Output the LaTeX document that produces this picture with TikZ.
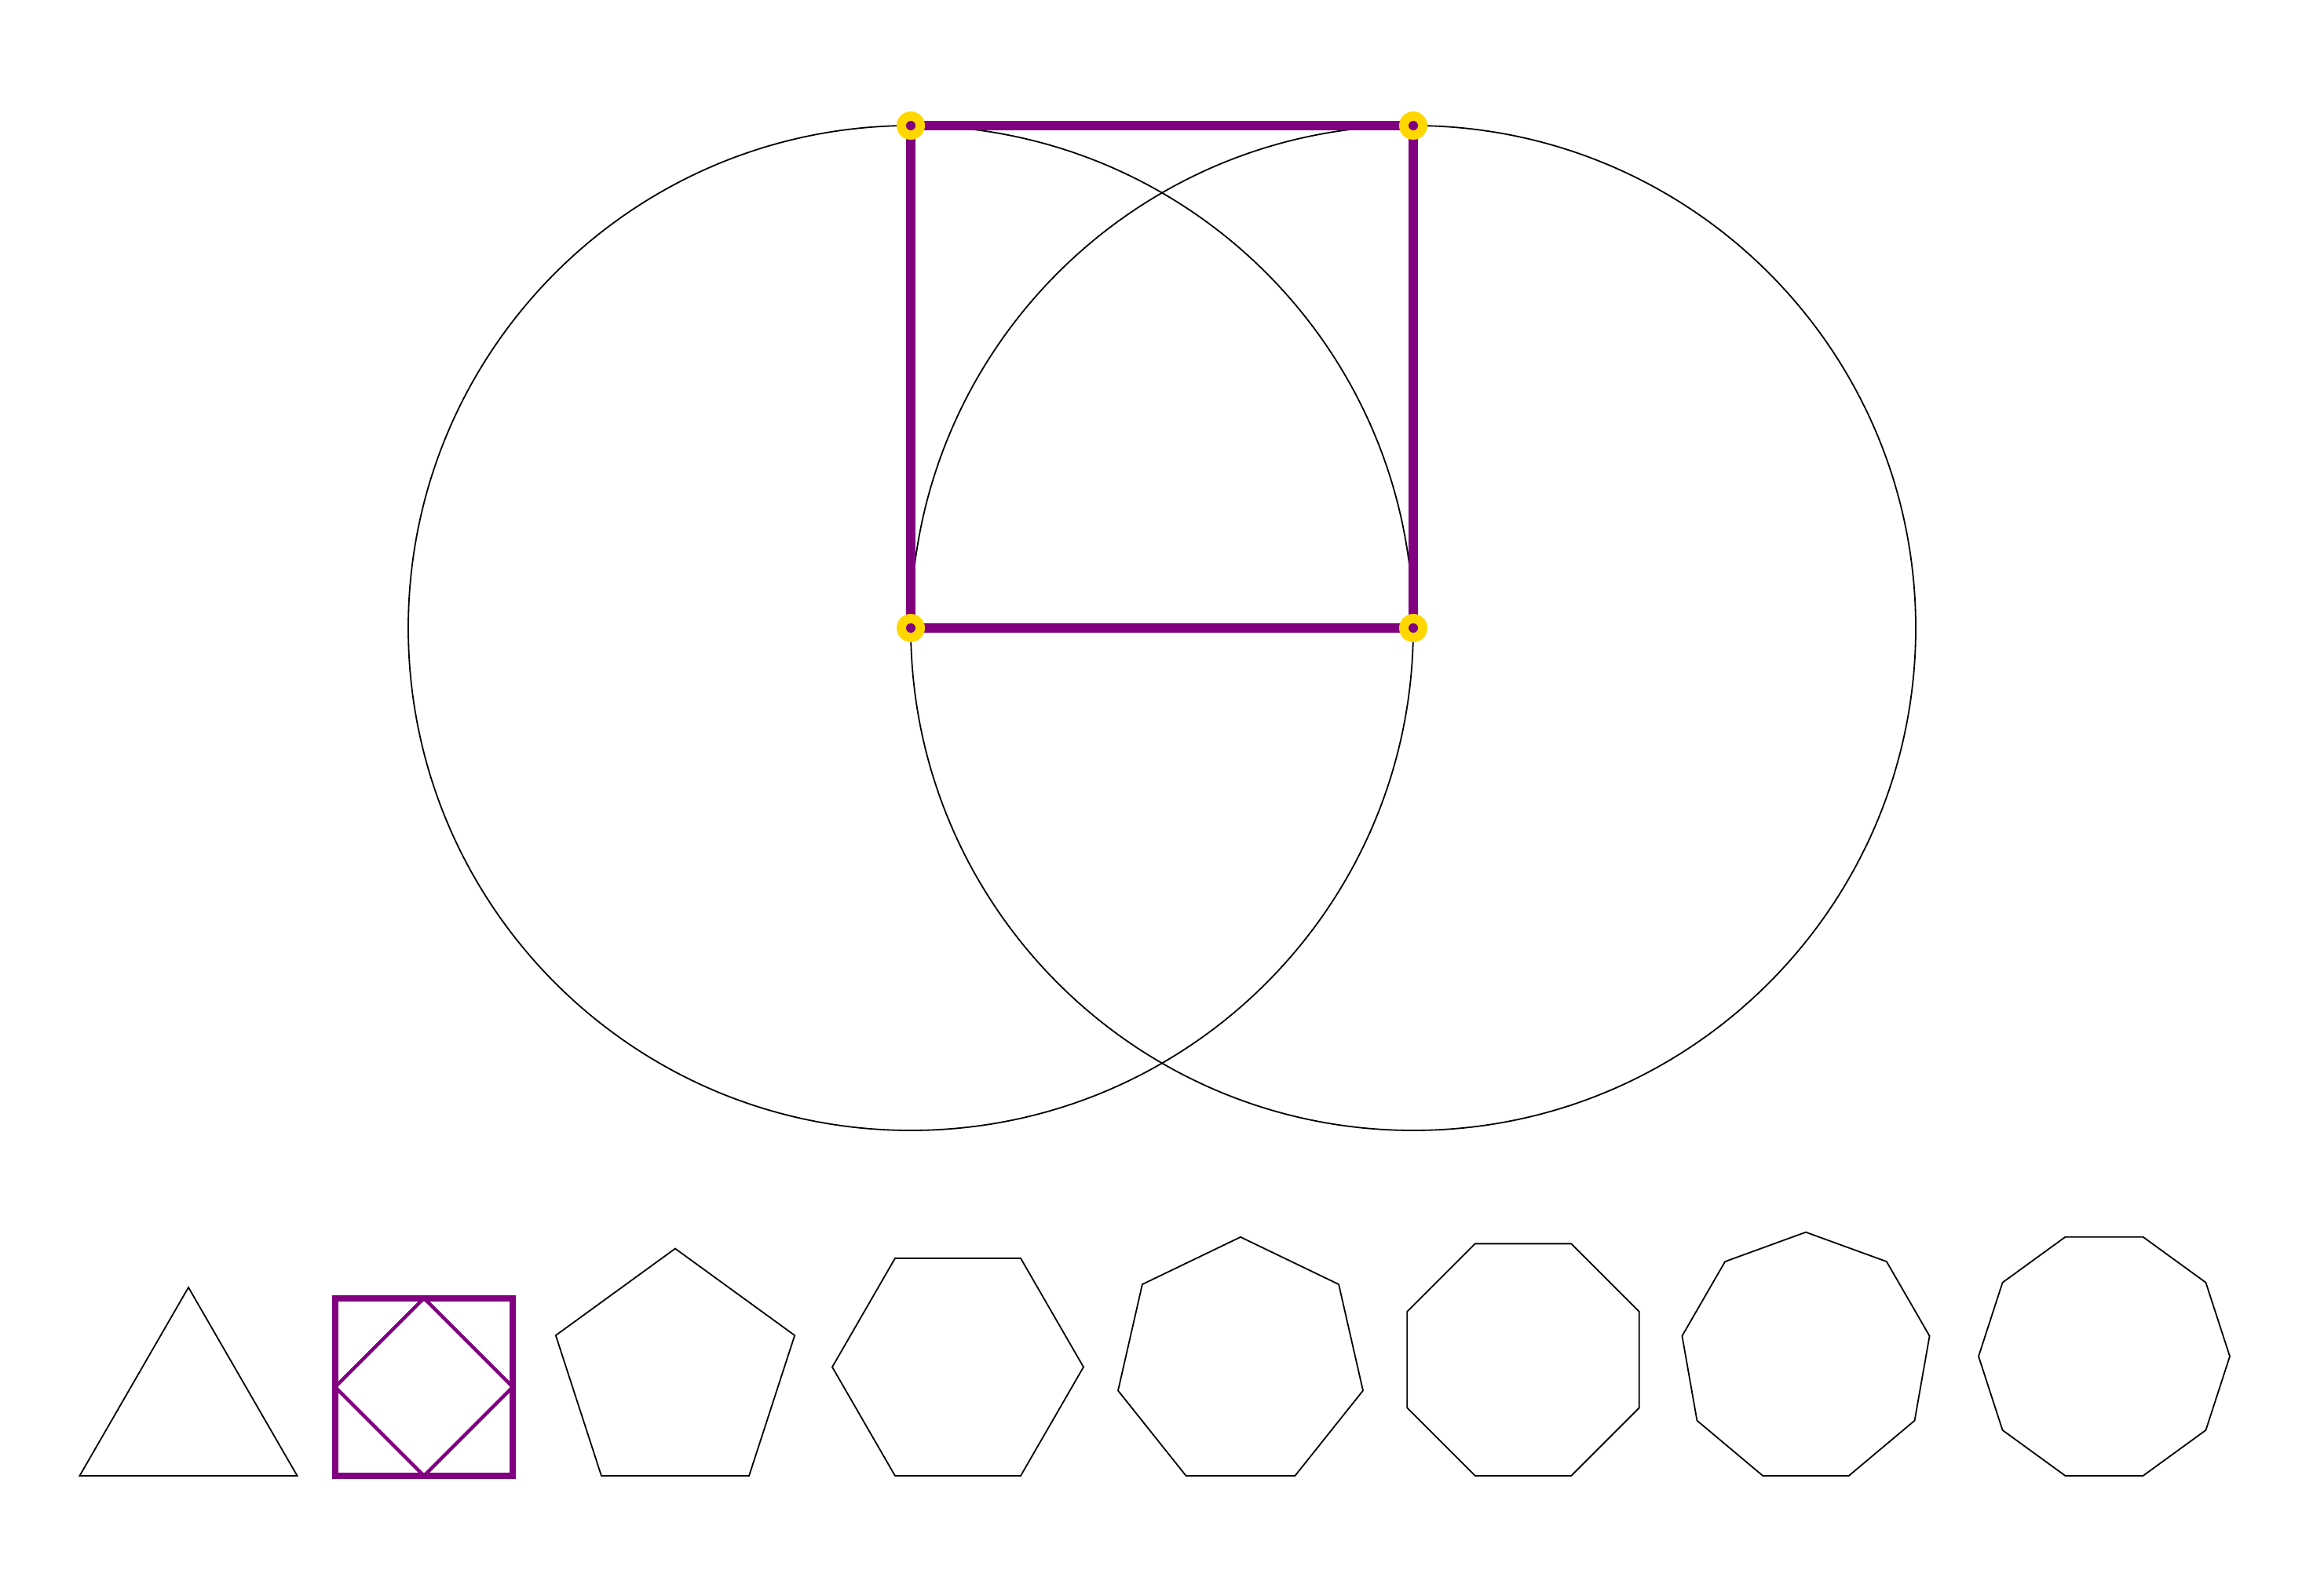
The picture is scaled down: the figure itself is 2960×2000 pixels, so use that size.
\documentclass[tikz,border=0pt]{standalone}
\usepackage{tikz}
\definecolor{mypurple}{RGB}{128,0,128}
\definecolor{mygold}{RGB}{255,215,0}
\tikzset{
  thinline/.style={draw=black, line width=0.018cm, line join=miter},
  bigsq/.style={draw=mypurple, line width=0.12cm},
  smallsq/.style={draw=mypurple, line width=0.08cm, line join=miter},
  diam/.style={draw=mypurple, line width=0.045cm},
  outerdot/.style={fill=mygold},
  innerdot/.style={fill=mypurple}
}
\begin{document}
\begin{tikzpicture}[x=0.01cm, y=-0.01cm]
\useasboundingbox (0,0) rectangle (2960,2000);
% main construction
\coordinate (A) at (1160,160);
\coordinate (B) at (1800,160);
\coordinate (C) at (1160,800);
\coordinate (D) at (1800,800);
\draw[thinline] (C) circle (640);
\draw[thinline] (D) circle (640);
\draw[bigsq] (A) -- (B) -- (D) -- (C) -- cycle;
\foreach \p in {A,B,C,D} {
  \fill[outerdot] (\p) circle (18);
  \fill[innerdot] (\p) circle (6);
}
% regular polygons, circumradius 160, bottoms at 1880
\foreach \n/\cx in {3/240,5/860,6/1220,7/1580,8/1940,9/2300,10/2680} {
  \pgfmathsetmacro\cy{1880-160*cos(180/\n)}
  \pgfmathtruncatemacro\m{\n-1}
  \draw[thinline] ([shift={(\cx,\cy)}]{90+180/\n}:160)
    \foreach \k in {1,...,\m} { -- ([shift={(\cx,\cy)}]{90+180/\n+\k*360/\n}:160) }
    -- cycle;
}
% square with inscribed diamond
\coordinate (s1) at (426.86,1653.72);
\coordinate (s2) at (653.14,1653.72);
\coordinate (s3) at (653.14,1880);
\coordinate (s4) at (426.86,1880);
\coordinate (m1) at (540,1653.72);
\coordinate (m2) at (653.14,1766.86);
\coordinate (m3) at (540,1880);
\coordinate (m4) at (426.86,1766.86);
\draw[smallsq] (s1) -- (s2) -- (s3) -- (s4) -- cycle;
\draw[diam] (m1) -- (m2) -- (m3) -- (m4) -- cycle;
\end{tikzpicture}
\end{document}
